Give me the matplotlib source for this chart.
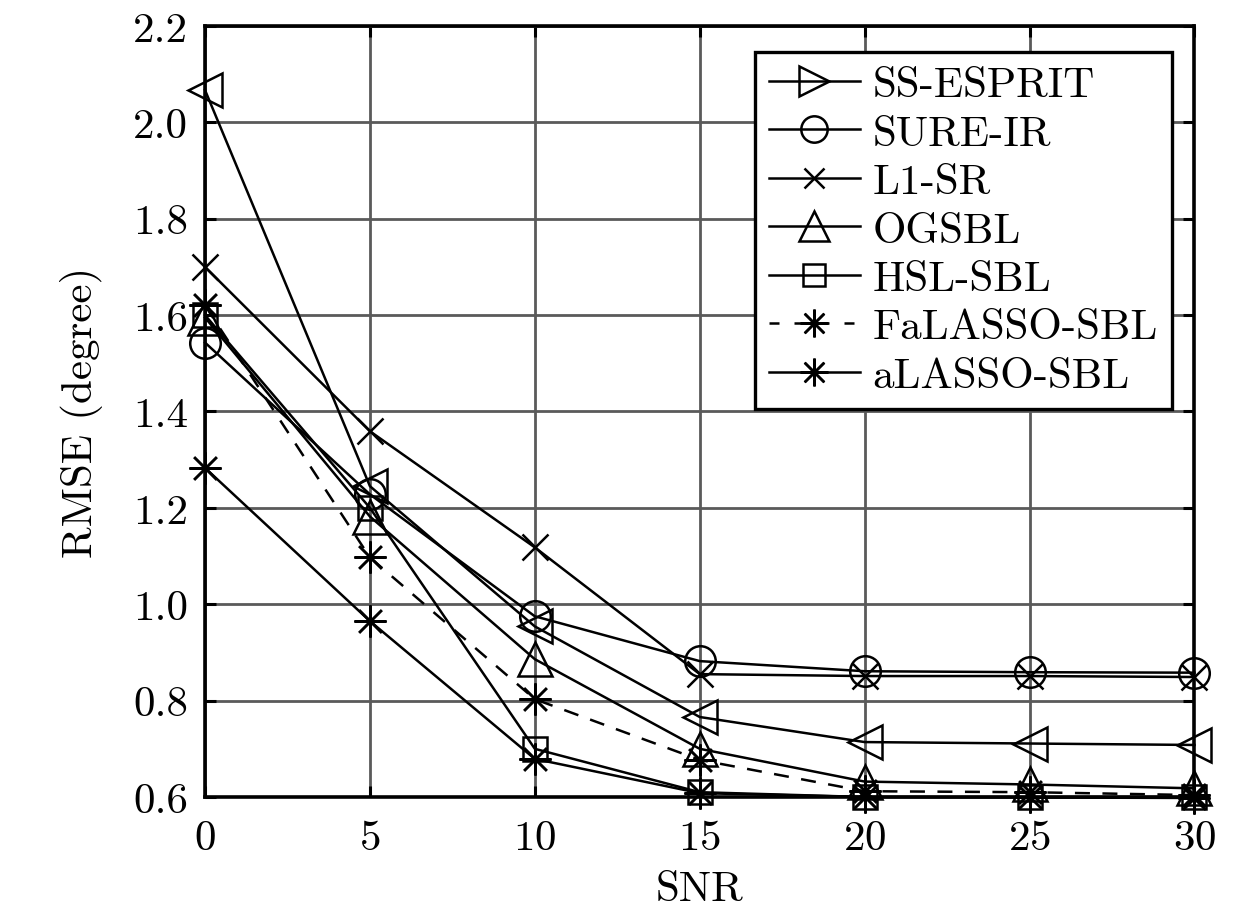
import matplotlib
matplotlib.use("Agg")
import matplotlib.pyplot as plt
from matplotlib.lines import Line2D

plt.rcParams['font.family'] = ['cmr10', 'DejaVu Serif']
plt.rcParams['mathtext.fontset'] = 'cm'
plt.rcParams['axes.formatter.use_mathtext'] = True

snr = [0, 5, 10, 15, 20, 25, 30]

ss_esprit = [2.067, 1.245, 0.954, 0.766, 0.714, 0.711, 0.708]
sure_ir = [1.543, 1.228, 0.975, 0.882, 0.861, 0.859, 0.858]
l1_sr = [1.700, 1.359, 1.118, 0.855, 0.851, 0.851, 0.849]
ogsbl = [1.595, 1.182, 0.886, 0.700, 0.632, 0.626, 0.618]
hsl_sbl = [1.600, 1.200, 0.700, 0.610, 0.600, 0.600, 0.600]
falasso_sbl = [1.620, 1.097, 0.803, 0.677, 0.612, 0.610, 0.604]
alasso_sbl = [1.283, 0.965, 0.679, 0.608, 0.600, 0.599, 0.598]

names = ['SS-ESPRIT', 'SURE-IR', 'L1-SR', 'OGSBL', 'HSL-SBL',
         'FaLASSO-SBL', 'aLASSO-SBL']

asterisk = (8, 2, 0)
fs = 31

fig = plt.figure(figsize=(12.6, 9.2), dpi=100)
ax = fig.add_axes([0.1627, 0.1326, 0.7853, 0.8381])

lw = 1.8
mew = 1.8

series = [
    (ss_esprit, '<', 24, '-'),
    (sure_ir, 'o', 22, '-'),
    (l1_sr, 'x', 19, '-'),
    (ogsbl, '^', 24, '-'),
    (hsl_sbl, 's', 17, '-'),
    (falasso_sbl, asterisk, 23, '--'),
    (alasso_sbl, asterisk, 23, '-'),
]

for vals, m, ms, ls in series:
    ax.plot(snr, vals, color='black', linestyle=ls, linewidth=lw,
            marker=m, markersize=ms, markerfacecolor='none',
            markeredgecolor='black', markeredgewidth=mew, clip_on=False,
            dashes=(6, 5) if ls == '--' else (None, None))

# legend entries (first one drawn with a right-pointing triangle, as in the figure)
leg_markers = ['>', 'o', 'x', '^', 's', asterisk, asterisk]
leg_sizes = [21, 19, 15, 22, 16, 20, 20]
handles = []
for i, name in enumerate(names):
    ls = '--' if name == 'FaLASSO-SBL' else '-'
    h = Line2D([], [], color='black', linestyle=ls, linewidth=lw,
               marker=leg_markers[i], markersize=leg_sizes[i],
               markerfacecolor='none', markeredgecolor='black',
               markeredgewidth=mew)
    if ls == '--':
        h.set_dashes((4, 6))
    handles.append(h)

leg = ax.legend(handles, names, loc='upper right', fontsize=fs,
                frameon=True, fancybox=False, edgecolor='black',
                framealpha=1, handlelength=2.1, handletextpad=0.3,
                borderpad=0.32, labelspacing=0.24, borderaxespad=0,
                bbox_to_anchor=(0.977, 0.966))
leg.get_frame().set_linewidth(2.4)

ax.set_xlim(0, 30)
ax.set_ylim(0.6, 2.2)
ax.set_xticks(snr)
ax.set_yticks([0.6, 0.8, 1.0, 1.2, 1.4, 1.6, 1.8, 2.0, 2.2])
ax.set_yticklabels(['0.6', '0.8', '1.0', '1.2', '1.4', '1.6', '1.8', '2.0', '2.2'])
ax.grid(True, color='#5a5a5a', linewidth=2.0)
ax.set_axisbelow(True)
ax.tick_params(direction='in', length=8, width=2.2, labelsize=fs,
               top=True, right=True, pad=12)
ax.tick_params(axis='x', pad=16)
for s in ax.spines.values():
    s.set_linewidth(2.6)

ax.set_xlabel('SNR', fontsize=fs, labelpad=10)
ax.set_ylabel('RMSE (degree)', fontsize=fs, labelpad=22)

fig.savefig('out.png', dpi=100)
